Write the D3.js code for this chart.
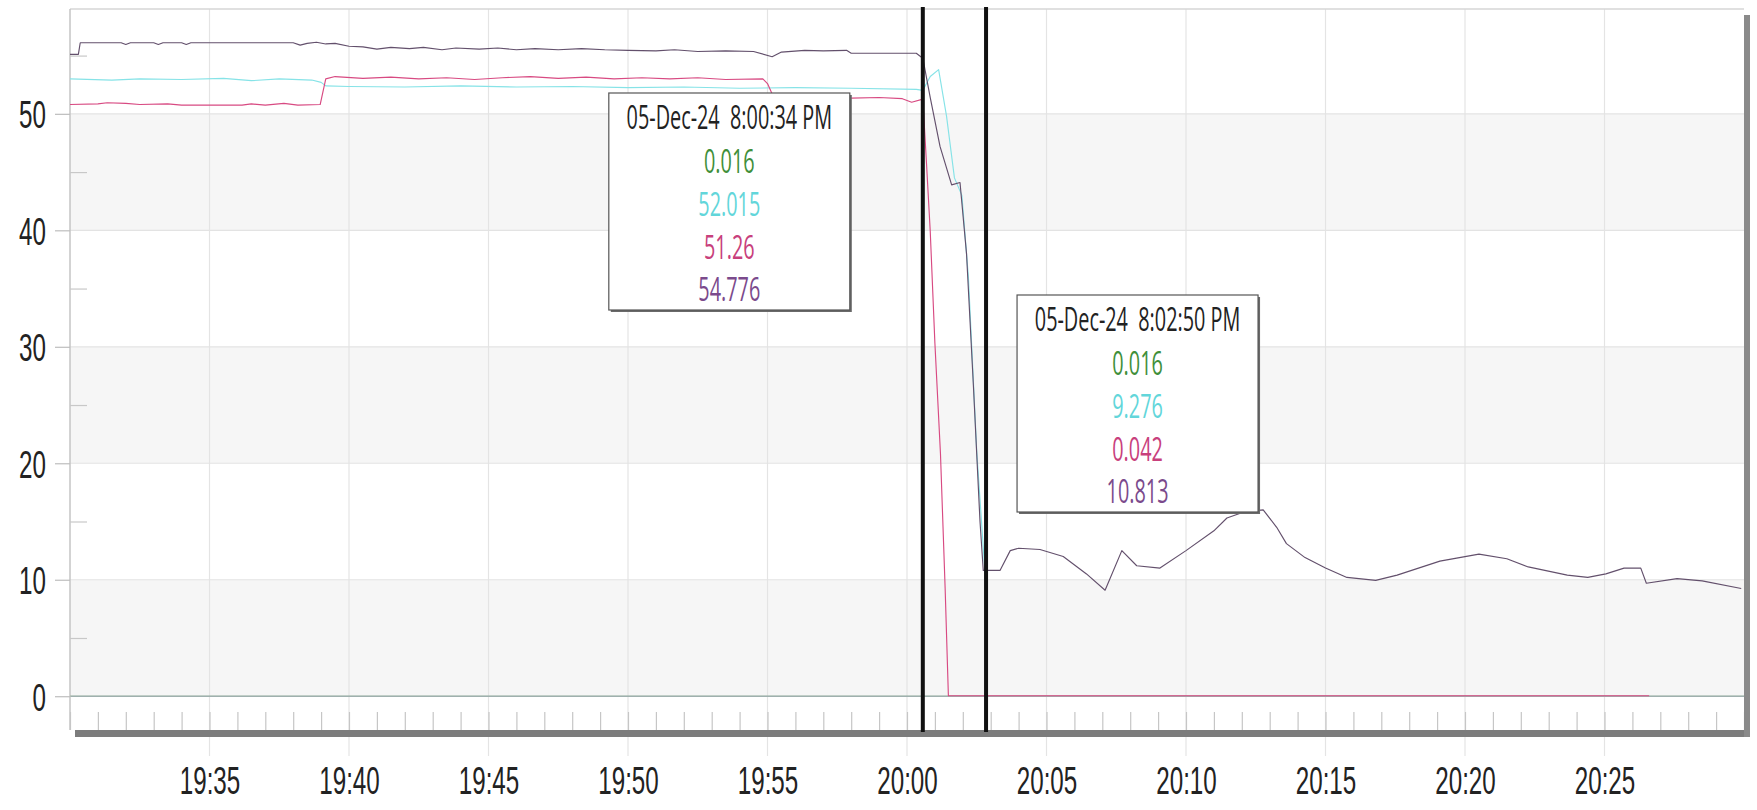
<!DOCTYPE html>
<html>
<head>
<meta charset="utf-8">
<script src="https://cdn.jsdelivr.net/npm/d3@7"></script>
<style>
  html, body { margin: 0; padding: 0; background: #fff; }
  svg { display: block; font-family: "Open Sans", "Noto Sans", sans-serif; }
  text { white-space: pre; }
</style>
</head>
<body>
<div id="chart"></div>
<script>
// ---- data ----
const seriesNames  = ["green", "cyan", "pink", "purple"];
const seriesColors = ["#58a24e", "#86e3e7", "#d84a82", "#63506c"];
const labelColors  = ["#3f8f3a", "#62d6da", "#c8407c", "#7b4a8c"];

const greenPoints = [["19:30:00", 0.016], ["20:30:00", 0.016]];

const cyanPoints = [
  ["19:30:00", 53.0], ["19:31:30", 52.9], ["19:32:30", 53.0], ["19:34:00", 52.95],
  ["19:35:30", 53.05], ["19:36:30", 52.85], ["19:37:30", 53.0], ["19:38:40", 52.9],
  ["19:39:00", 52.7], ["19:39:10", 52.4], ["19:40:00", 52.35], ["19:42:00", 52.3],
  ["19:44:00", 52.4], ["19:46:00", 52.3], ["19:48:00", 52.35], ["19:50:00", 52.25],
  ["19:52:00", 52.3], ["19:54:00", 52.2], ["19:56:00", 52.25], ["19:58:00", 52.2],
  ["20:00:20", 52.1], ["20:00:34", 52.015], ["20:00:50", 53.2], ["20:01:08", 53.8],
  ["20:01:25", 49.8], ["20:01:42", 44.5], ["20:01:58", 43.0], ["20:02:12", 36.0],
  ["20:02:30", 21.0], ["20:02:50", 9.276]
];

const pinkPoints = [
  ["19:30:00", 50.8], ["19:31:00", 50.85], ["19:31:20", 50.95], ["19:32:00", 50.9],
  ["19:32:30", 50.8], ["19:33:30", 50.85], ["19:34:00", 50.75], ["19:36:10", 50.75],
  ["19:36:30", 50.85], ["19:37:00", 50.75], ["19:37:40", 50.9], ["19:38:10", 50.75],
  ["19:38:58", 50.8], ["19:39:10", 53.0], ["19:39:30", 53.2], ["19:40:30", 53.05],
  ["19:41:30", 53.15], ["19:42:30", 53.0], ["19:43:30", 53.1], ["19:44:30", 52.95],
  ["19:45:30", 53.1], ["19:46:30", 53.2], ["19:47:30", 53.05], ["19:48:30", 53.15],
  ["19:49:30", 53.0], ["19:50:30", 53.1], ["19:51:30", 53.0], ["19:52:30", 53.1],
  ["19:53:30", 52.95], ["19:54:50", 53.0], ["19:55:00", 52.6], ["19:55:10", 51.7],
  ["19:57:00", 51.6], ["19:58:00", 51.35], ["19:59:00", 51.4], ["19:59:50", 51.3],
  ["20:00:10", 51.0], ["20:00:34", 51.26], ["20:00:42", 45.7], ["20:00:50", 39.9],
  ["20:01:00", 30.3], ["20:01:12", 20.8], ["20:01:22", 9.3], ["20:01:29", 0.042],
  ["20:26:36", 0.042]
];

const purplePoints = [
  ["19:30:00", 55.1], ["19:30:18", 55.1], ["19:30:22", 56.1], ["19:31:50", 56.1],
  ["19:32:00", 55.95], ["19:32:10", 56.1], ["19:33:00", 56.1], ["19:33:10", 55.95],
  ["19:33:20", 56.1], ["19:34:00", 56.1], ["19:34:10", 55.95], ["19:34:20", 56.1],
  ["19:38:00", 56.1], ["19:38:15", 55.9], ["19:38:30", 56.05], ["19:38:50", 56.15],
  ["19:39:10", 56.0], ["19:39:30", 56.05], ["19:40:00", 55.8], ["19:40:30", 55.75],
  ["19:41:00", 55.55], ["19:41:30", 55.7], ["19:42:10", 55.6], ["19:42:40", 55.7],
  ["19:43:20", 55.5], ["19:43:50", 55.65], ["19:44:40", 55.55], ["19:45:20", 55.65],
  ["19:46:00", 55.5], ["19:46:40", 55.6], ["19:47:30", 55.5], ["19:48:20", 55.6],
  ["19:49:10", 55.5], ["19:50:00", 55.45], ["19:51:00", 55.4], ["19:51:40", 55.5],
  ["19:52:30", 55.35], ["19:53:30", 55.4], ["19:54:30", 55.35], ["19:55:10", 54.9],
  ["19:55:30", 55.3], ["19:56:20", 55.45], ["19:57:00", 55.4], ["19:57:50", 55.45],
  ["19:58:00", 55.2], ["20:00:20", 55.2], ["20:00:34", 54.776], ["20:00:50", 51.4],
  ["20:01:11", 47.2], ["20:01:36", 43.9], ["20:01:54", 44.1], ["20:02:08", 38.0],
  ["20:02:23", 26.5], ["20:02:37", 15.0], ["20:02:44", 10.8], ["20:02:50", 10.813],
  ["20:03:20", 10.8], ["20:03:42", 12.5], ["20:04:00", 12.7], ["20:04:46", 12.6],
  ["20:05:36", 12.0], ["20:06:26", 10.5], ["20:07:06", 9.1], ["20:07:42", 12.5],
  ["20:08:14", 11.2], ["20:09:04", 11.0], ["20:10:00", 12.5], ["20:11:00", 14.2],
  ["20:11:28", 15.3], ["20:12:03", 15.8], ["20:12:46", 16.0], ["20:13:15", 14.5],
  ["20:13:36", 13.1], ["20:14:16", 11.9], ["20:15:00", 11.0], ["20:15:46", 10.2],
  ["20:16:48", 9.95], ["20:17:34", 10.4], ["20:19:06", 11.6], ["20:20:30", 12.2],
  ["20:21:30", 11.8], ["20:22:16", 11.1], ["20:23:40", 10.4], ["20:24:24", 10.2],
  ["20:25:03", 10.5], ["20:25:42", 11.0], ["20:26:18", 11.0], ["20:26:30", 9.7],
  ["20:27:36", 10.1], ["20:28:30", 9.9], ["20:29:54", 9.25]
];

const cursorTimes  = ["20:00:34", "20:02:50"];
const cursorDates  = ["05-Dec-24  8:00:34 PM", "05-Dec-24  8:02:50 PM"];
const cursorValues = [["0.016", "52.015", "51.26", "54.776"], ["0.016", "9.276", "0.042", "10.813"]];

const yTicks = [0, 10, 20, 30, 40, 50];
const yMinorTicks = [5, 15, 25, 35, 45, 55];
const xTickLabels = ["19:35", "19:40", "19:45", "19:50", "19:55", "20:00", "20:05", "20:10", "20:15", "20:20", "20:25"];
const timeRange = ["19:30:00", "20:30:00"];

// ---- layout ----
const width = 1757;
const height = 810;
const plot = { left: 70, right: 1744, top: 9, bottom: 730 };
const squeeze = 0.62; // the screenshot's text is horizontally condensed

const parseT  = d3.timeParse("%H:%M:%S");
const parseHM = d3.timeParse("%H:%M");

const xScale = d3.scaleTime()
    .domain(timeRange.map(parseT))
    .range([plot.left, plot.right]);
const yScale = d3.scaleLinear()
    .domain([-2.9, 59])
    .range([plot.bottom, plot.top]);

const svg = d3.select("#chart").append("svg")
    .attr("width", width)
    .attr("height", height);

// alternating bands
svg.selectAll(".band")
  .data([0, 20, 40])
  .join("rect")
    .attr("class", "band")
    .attr("x", plot.left)
    .attr("y", d => yScale(d + 10))
    .attr("width", plot.right - plot.left)
    .attr("height", d => yScale(d) - yScale(d + 10))
    .attr("fill", "#f6f6f6");

// vertical grid every 5 min, running down past the axis bar
const majorTimes = xTickLabels.map(parseHM).map(d => parseT(d3.timeFormat("%H:%M:00")(d)));
svg.selectAll(".vgrid")
  .data(majorTimes)
  .join("line")
    .attr("class", "vgrid")
    .attr("x1", d => xScale(d)).attr("x2", d => xScale(d))
    .attr("y1", plot.top).attr("y2", plot.bottom + 26)
    .attr("stroke", "#e4e4e4")
    .attr("stroke-width", 1.2);

// horizontal grid
svg.selectAll(".hgrid")
  .data(yTicks.filter(d => d > 0))
  .join("line")
    .attr("class", "hgrid")
    .attr("x1", plot.left).attr("x2", plot.right)
    .attr("y1", d => yScale(d)).attr("y2", d => yScale(d))
    .attr("stroke", "#e3e3e3")
    .attr("stroke-width", 1.2);

svg.append("line")
    .attr("x1", plot.left).attr("x2", plot.right)
    .attr("y1", yScale(0)).attr("y2", yScale(0))
    .attr("stroke", "#aab3bc")
    .attr("stroke-width", 1.5);

// frame: thin top/left, heavy shadow right/bottom
svg.append("line")
    .attr("x1", plot.left).attr("x2", plot.right)
    .attr("y1", plot.top).attr("y2", plot.top)
    .attr("stroke", "#d6d6d6").attr("stroke-width", 1.5);
svg.append("line")
    .attr("x1", plot.left).attr("x2", plot.left)
    .attr("y1", plot.top).attr("y2", plot.bottom)
    .attr("stroke", "#c4c4c4").attr("stroke-width", 1.5);

// minute ticks standing on the bottom edge
const minorX = d3.axisBottom(xScale)
    .ticks(d3.timeMinute.every(1))
    .tickSize(-18)
    .tickFormat("");
svg.append("g")
    .attr("transform", `translate(0,${plot.bottom})`)
    .call(minorX)
    .call(g => g.select(".domain").remove())
    .call(g => g.selectAll("line").attr("stroke", "#c6c6c6").attr("stroke-width", 1.2));

// minor y ticks inside the left edge
svg.append("g")
    .attr("transform", `translate(${plot.left},0)`)
    .call(d3.axisRight(yScale).tickValues(yMinorTicks).tickSize(17).tickFormat(""))
    .call(g => g.select(".domain").remove())
    .call(g => g.selectAll("line").attr("stroke", "#c8c8c8").attr("stroke-width", 1.2));

// series
const line = d3.line()
    .x(d => xScale(parseT(d[0])))
    .y(d => yScale(d[1]));

const allSeries = [greenPoints, cyanPoints, pinkPoints, purplePoints];
allSeries.forEach((pts, i) => {
    svg.append("path")
        .datum(pts)
        .attr("fill", "none")
        .attr("stroke", seriesColors[i])
        .attr("stroke-opacity", i === 0 ? 0.25 : 1)
        .attr("stroke-width", 1.15)
        .attr("stroke-linejoin", "round")
        .attr("d", line);
});

// heavy bottom and right shadow bars
svg.append("rect")
    .attr("x", plot.left + 5).attr("y", plot.bottom)
    .attr("width", plot.right - plot.left + 1).attr("height", 7)
    .attr("fill", "#7c7c7c");
svg.append("rect")
    .attr("x", plot.right).attr("y", plot.top + 6)
    .attr("width", 6).attr("height", plot.bottom - plot.top + 1)
    .attr("fill", "#8a8a8a");

// y axis labels + outside ticks
const yAxis = d3.axisLeft(yScale).tickValues(yTicks).tickSize(15).tickFormat(d3.format("d"));
svg.append("g")
    .attr("transform", `translate(${plot.left},0)`)
    .call(yAxis)
    .call(g => g.select(".domain").remove())
    .call(g => g.selectAll("line").attr("stroke", "#bdbdbd").attr("stroke-width", 1.2))
    .call(g => g.selectAll("text")
        .attr("x", null).attr("dy", null)
        .attr("transform", `translate(-24,14) scale(${squeeze},1)`)
        .attr("text-anchor", "end")
        .attr("font-size", 39)
        .attr("fill", "#222"));

// x axis labels
const xAxis = d3.axisBottom(xScale)
    .tickValues(majorTimes)
    .tickSize(0)
    .tickFormat(d3.timeFormat("%H:%M"));
svg.append("g")
    .attr("transform", `translate(0,${plot.bottom})`)
    .call(xAxis)
    .call(g => g.select(".domain").remove())
    .call(g => g.selectAll("text")
        .attr("y", null).attr("dy", null)
        .attr("transform", `translate(0,64) scale(${squeeze},1)`)
        .attr("text-anchor", "middle")
        .attr("font-size", 39)
        .attr("fill", "#222"));

// cursors
svg.selectAll(".cursor")
  .data(cursorTimes)
  .join("line")
    .attr("class", "cursor")
    .attr("x1", d => xScale(parseT(d))).attr("x2", d => xScale(parseT(d)))
    .attr("y1", plot.top - 2).attr("y2", plot.bottom + 2)
    .attr("stroke", "#111")
    .attr("stroke-width", 4);

// readout boxes
const boxW = 241, boxH = 217;
const boxes = [
    { x: xScale(parseT(cursorTimes[0])) - 73 - boxW, y: 93 },
    { x: xScale(parseT(cursorTimes[1])) + 31, y: 295 }
];
const rowY = [25, 69, 112, 155, 197];

boxes.forEach((b, k) => {
    const g = svg.append("g").attr("transform", `translate(${b.x},${b.y})`);
    g.append("rect")
        .attr("x", 2).attr("y", 2)
        .attr("width", boxW).attr("height", boxH)
        .attr("fill", "#6a6a6a");
    g.append("rect")
        .attr("width", boxW).attr("height", boxH)
        .attr("fill", "#fff")
        .attr("stroke", "#555")
        .attr("stroke-width", 1.2);
    const rows = [cursorDates[k]].concat(cursorValues[k]);
    const colors = ["#222"].concat(labelColors);
    rows.forEach((txt, r) => {
        g.append("text")
            .attr("transform", `translate(${boxW / 2},${rowY[r] + 11}) scale(${squeeze},1)`)
            .attr("text-anchor", "middle")
            .attr("font-size", 32)
            .attr("fill", colors[r])
            .text(txt);
    });
});
</script>
</body>
</html>
